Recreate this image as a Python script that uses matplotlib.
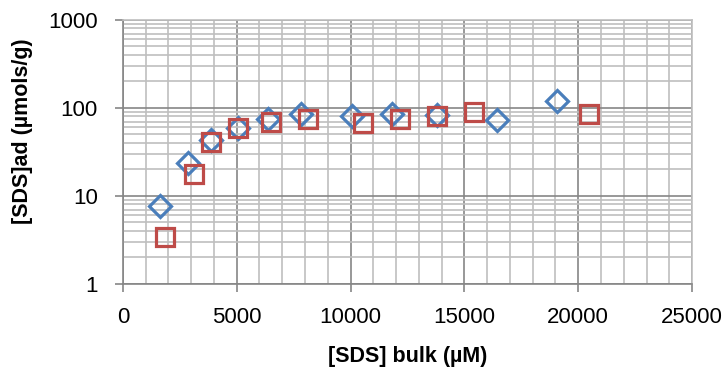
import numpy as np
import matplotlib
matplotlib.use("Agg")
import matplotlib.pyplot as plt
from matplotlib.ticker import MultipleLocator, LogLocator, FixedLocator

# data
blue_x = [1630, 2840, 3870, 5070, 6360, 7810, 10050, 11800, 13810, 16450, 19080]
blue_y = [7.7, 23.5, 43, 59.5, 74, 85, 80, 85, 84, 72, 120]
red_x = [1850, 3130, 3870, 5040, 6500, 8140, 10560, 12170, 13810, 15420, 20490]
red_y = [3.4, 17.8, 41, 59, 68.5, 75, 68, 75, 81, 91, 86]

x_ticks = [0, 5000, 10000, 15000, 20000, 25000]
y_ticks = [1, 10, 100, 1000]

plt.rcParams['font.family'] = ['Liberation Sans', 'DejaVu Sans']

fig = plt.figure(figsize=(7.27, 3.76), dpi=100)
ax = fig.add_axes([0.169, 0.245, 0.783, 0.702])

ax.plot(blue_x, blue_y, linestyle='none', marker='D', markersize=11,
        markerfacecolor='none', markeredgecolor='#4A7EBB', markeredgewidth=2.3, zorder=3)
ax.plot(red_x, red_y, linestyle='none', marker='s', markersize=13,
        markerfacecolor='none', markeredgecolor='#BE4B48', markeredgewidth=2.3, zorder=3)

ax.set_yscale('log')
ax.set_xlim(0, 25000)
ax.set_ylim(1, 1000)
ax.set_xticks(x_ticks)
ax.set_xticklabels([str(v) for v in x_ticks])
ax.yaxis.set_major_locator(FixedLocator(y_ticks))
ax.set_yticklabels([str(v) for v in y_ticks])
ax.xaxis.set_minor_locator(MultipleLocator(1000))
ax.yaxis.set_minor_locator(LogLocator(base=10, subs=np.arange(2, 10)))

ax.grid(True, which='major', color='#868686', linewidth=1.2, zorder=0)
ax.grid(True, which='minor', color='#BFBFBF', linewidth=1.2, zorder=0)
ax.set_axisbelow(True)

for s in ax.spines.values():
    s.set_color('#868686')
    s.set_linewidth(1.2)
ax.spines['top'].set_color('#BFBFBF')
ax.spines['right'].set_color('#BFBFBF')

ax.tick_params(which='major', direction='out', length=6, width=1.2, color='#868686',
               labelsize=16, labelcolor='black')
ax.tick_params(axis='x', which='major', pad=11)
ax.tick_params(axis='y', which='major', pad=12)
ax.tick_params(which='minor', length=0)

ax.set_xlabel('[SDS] bulk (µM)', fontsize=15.5, fontweight='bold')
ax.set_ylabel('[SDS]ad (µmols/g)', fontsize=15.5, fontweight='bold')
ax.xaxis.set_label_coords(0.5, -0.235)
ax.yaxis.set_label_coords(-0.158, 0.58)

plt.savefig('out.png', dpi=100)
